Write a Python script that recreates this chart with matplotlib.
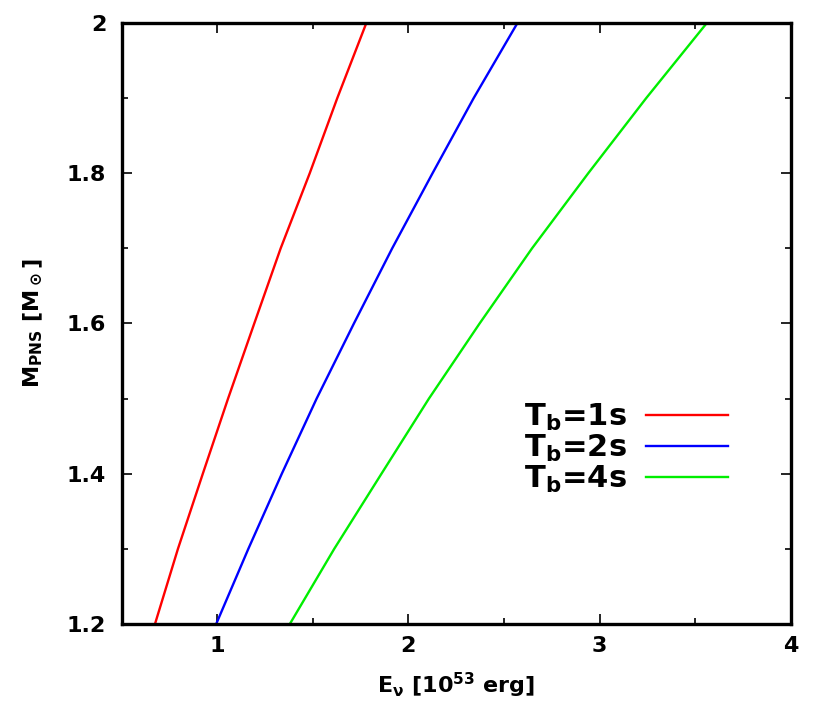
#!/usr/bin/env python3
"""PNS mass versus total neutrino energy for three burst durations."""

import numpy as np
import matplotlib
matplotlib.use('Agg')
import matplotlib.pyplot as plt
from matplotlib.ticker import MultipleLocator

plt.rcParams['font.family'] = ['DejaVu Sans']
plt.rcParams['font.weight'] = 'bold'
plt.rcParams['axes.labelweight'] = 'bold'
plt.rcParams['mathtext.fontset'] = 'dejavusans'
plt.rcParams['mathtext.default'] = 'bf'

# PNS mass (solar masses) where each curve was read
m_pns = [1.2, 1.3, 1.4, 1.5, 1.6, 1.7, 1.8, 1.9, 2.0]

# Neutrino energy (1e53 erg) for each burst time
e_1s = [0.675, 0.795, 0.925, 1.057, 1.194, 1.332, 1.484, 1.628, 1.78]
e_2s = [0.995, 1.163, 1.338, 1.520, 1.715, 1.915, 2.126, 2.341, 2.57]
e_4s = [1.38, 1.612, 1.859, 2.107, 2.372, 2.646, 2.94, 3.243, 3.56]

labels = [r'$T_b$=1s', r'$T_b$=2s', r'$T_b$=4s']
colors = ['#ff0000', '#0000ff', '#00ee00']

fig = plt.figure(figsize=(8.3, 7.27), dpi=100)
ax = fig.add_axes([121.5 / 830, 1 - 624 / 727, 669.5 / 830, 601 / 727])

for e, lab, c in zip([e_1s, e_2s, e_4s], labels, colors):
    ax.plot(e, m_pns, color=c, lw=1.7, label=lab)

ax.set_xlim(0.5, 4)
ax.set_ylim(1.2, 2)
ax.xaxis.set_major_locator(MultipleLocator(1))
ax.xaxis.set_minor_locator(MultipleLocator(0.5))
ax.yaxis.set_major_locator(MultipleLocator(0.2))
ax.yaxis.set_minor_locator(MultipleLocator(0.1))
ax.tick_params(which='both', direction='in', top=True, right=True,
               width=1.2, labelsize=16)
ax.tick_params(axis='x', pad=9)
ax.tick_params(axis='y', pad=11)
ax.tick_params(which='major', length=7)
ax.tick_params(which='minor', length=4)
ax.yaxis.set_major_formatter(plt.FuncFormatter(
    lambda v, p: '2' if abs(v - 2) < 1e-9 else f'{v:.1f}'))
for s in ax.spines.values():
    s.set_linewidth(2.4)

ax.set_xlabel(r'E$_\nu$ [10$^{53}$ erg]', fontsize=16, labelpad=10)
ax.set_ylabel(r'M$_{PNS}$ [M$_\odot$]', fontsize=16, labelpad=16)

ax.legend(loc='upper right', bbox_to_anchor=(0.906, 0.37),
          frameon=False, markerfirst=False, fontsize=22,
          handlelength=2.7, handletextpad=0.6, labelspacing=0.0,
          borderpad=0, borderaxespad=0)

fig.savefig('out.png', dpi=100)
